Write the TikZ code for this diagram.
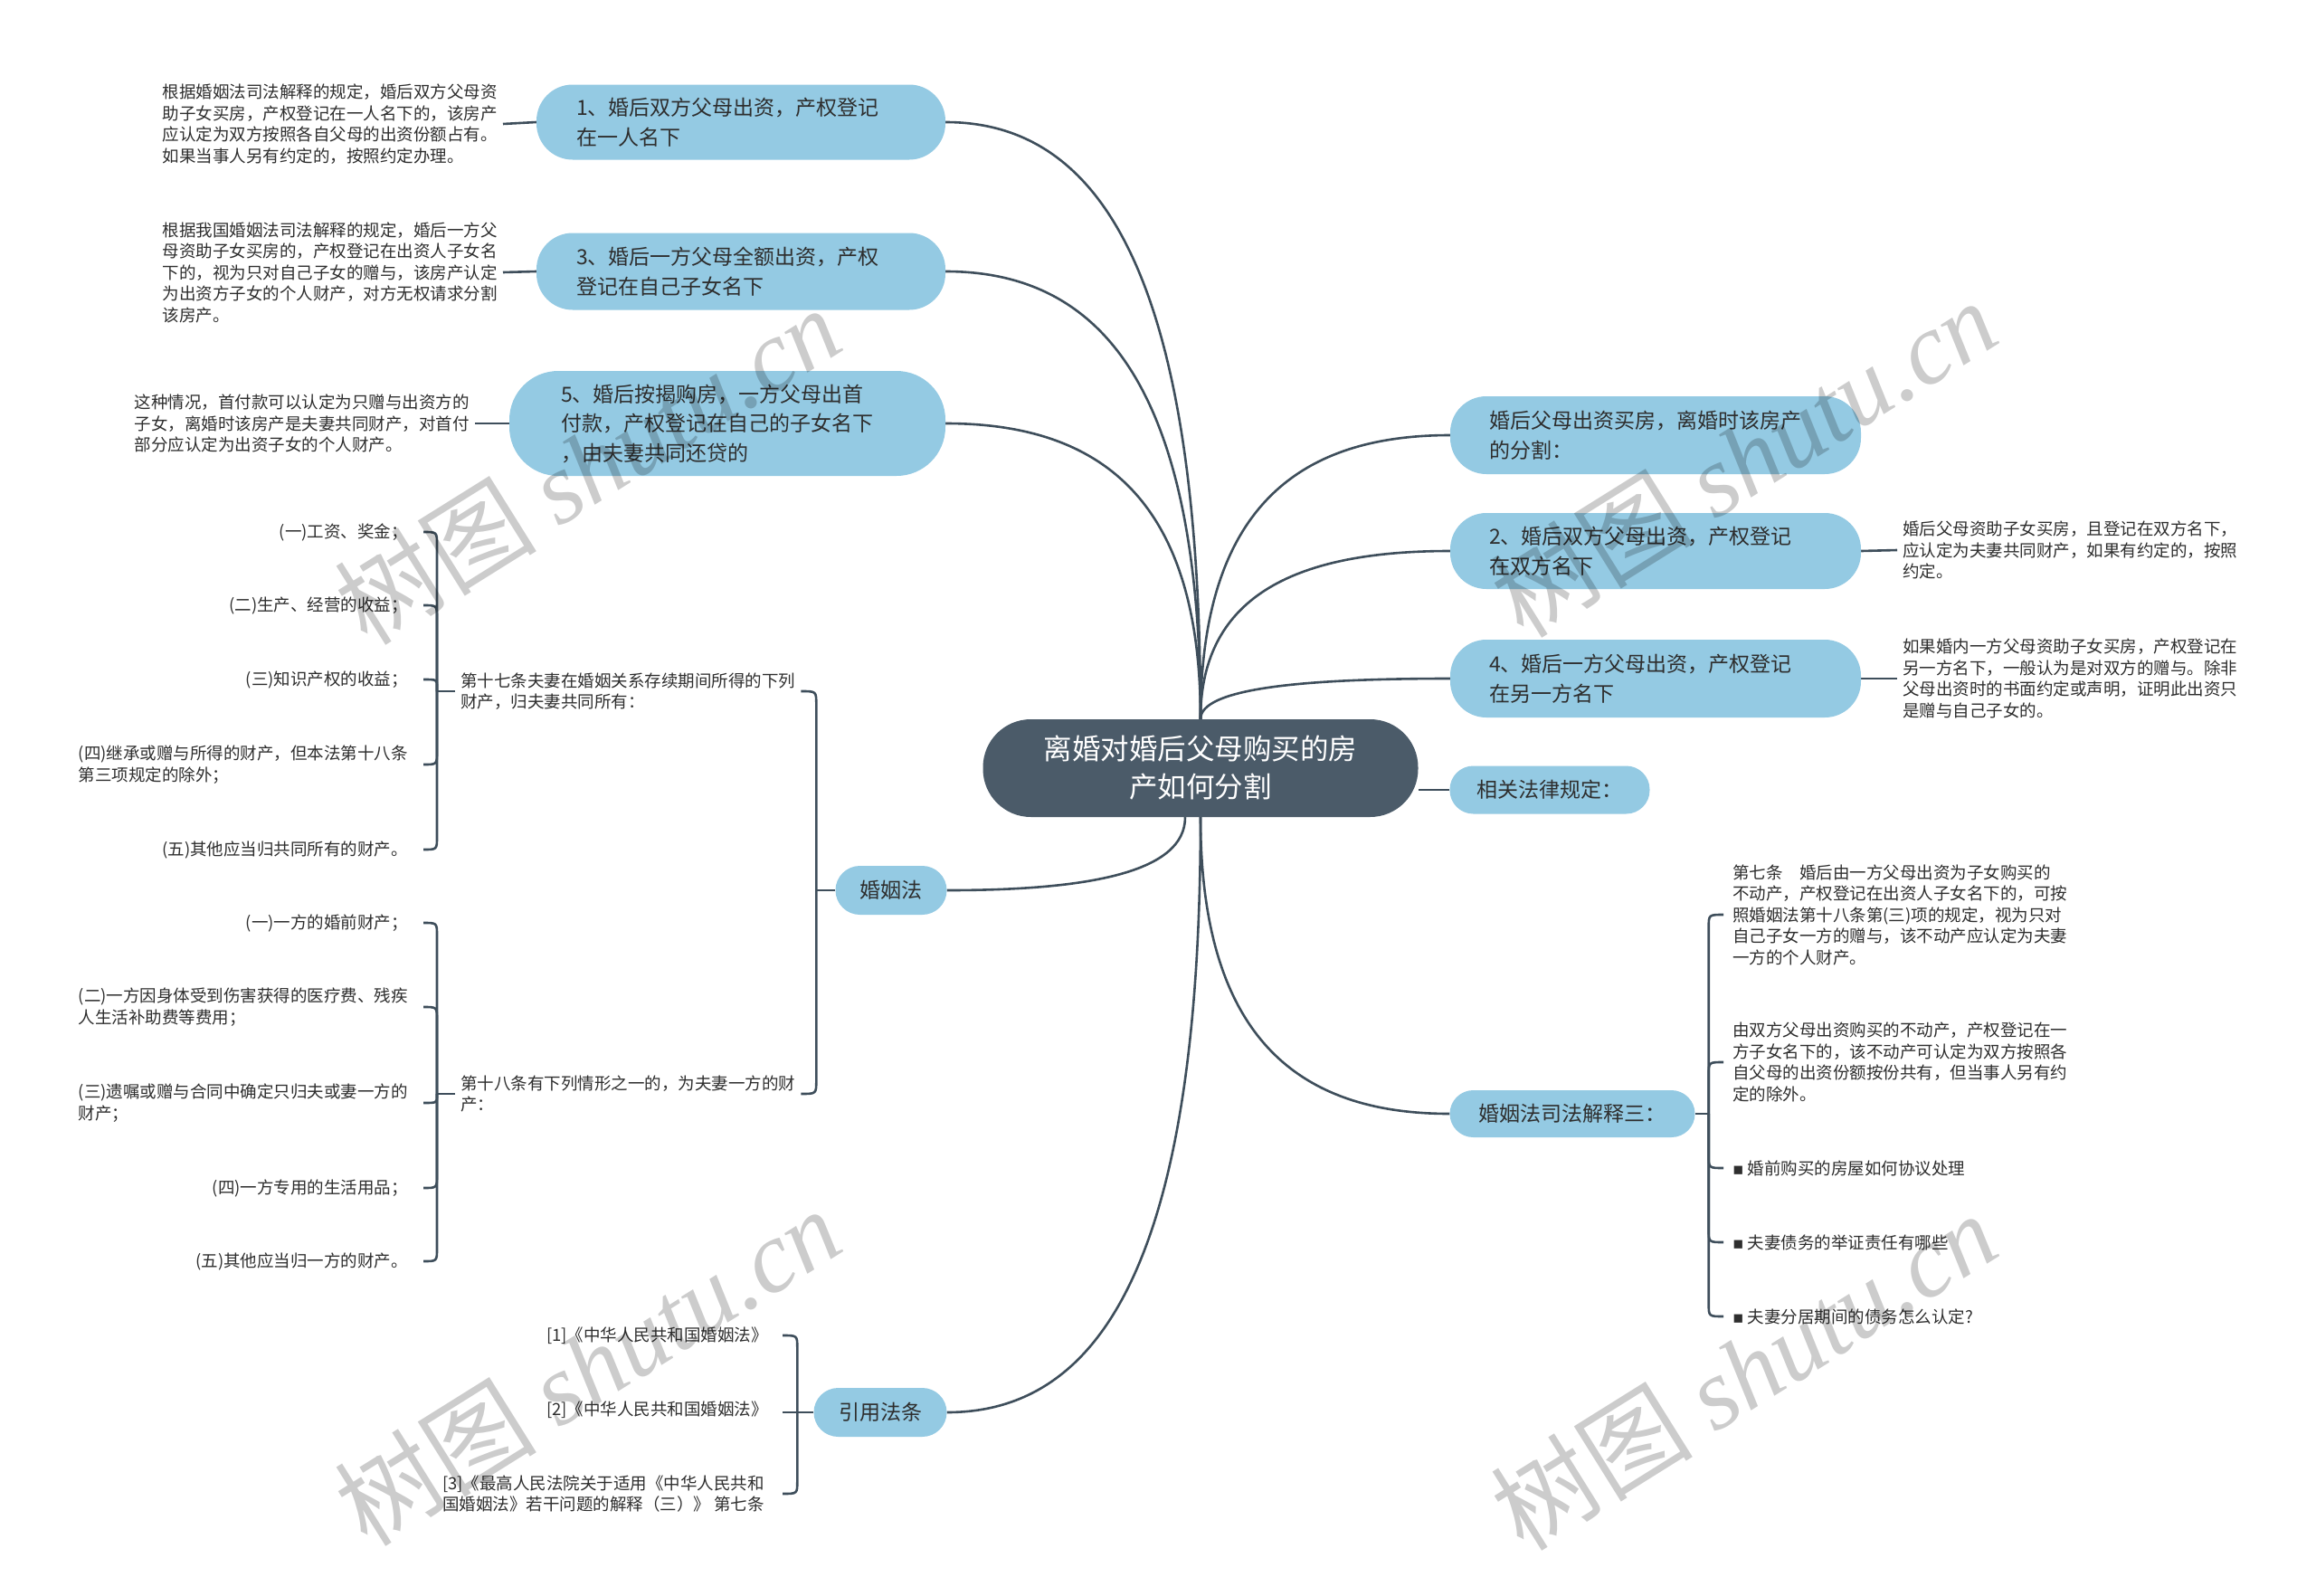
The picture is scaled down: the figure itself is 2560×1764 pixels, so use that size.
\documentclass[tikz,border=0pt]{standalone}
\usepackage{fontspec}
\setmainfont{Noto Sans CJK SC}
\newfontfamily\wmlatin{Liberation Serif}
\newfontfamily\symfnt{DejaVu Sans}
\usetikzlibrary{calc,backgrounds}
\definecolor{centralc}{HTML}{4B5B69}
\definecolor{bluec}{HTML}{94CAE3}
\definecolor{linec}{HTML}{3E4E5B}
\definecolor{txtc}{HTML}{2E2E2E}
\tikzset{
  conn/.style={draw=linec, line width=2.6pt},
  central/.style={fill=centralc, rounded corners=53pt, minimum width=481pt, minimum height=108pt,
    text=white, align=center, inner sep=0pt, font=\fontsize{31.5}{42}\selectfont},
  topic/.style={fill=bluec, rounded corners=40pt, text=txtc, inner sep=0pt,
    font=\fontsize{23}{32.5}\selectfont},
  note/.style={text=txtc, inner xsep=6pt, inner ysep=2pt, align=left,
    font=\fontsize{18.5}{23.5}\selectfont},
  wm/.style={text=black, text opacity=0.2, rotate=32, inner sep=0pt,
    font=\fontsize{112}{120}\selectfont}
}
\newcommand\mmcurve[2]{\draw[conn] (#1) .. controls ($(#1 |- #2)!0.25!(#1)$) and ($(#2)!0.6!(#2 -| #1)$) .. (#2);}
\newcommand\brhook[4]{\draw[conn] (#1) -- ($(#1 |- #2)+(0,#4)$) .. controls (#1 |- #2) .. (#3);}
\begin{document}
\begin{tikzpicture}[x=1pt,y=-1pt]
\begin{pgfonlayer}{background}
\fill[white] (0,0) rectangle (2560,1764);
\end{pgfonlayer}
\useasboundingbox (0,0) rectangle (2560,1764);

% central
\node[central] (c) at (1327,849) {离婚对婚后父母购买的房\\产如何分割};

% left topics
\node[topic, minimum width=452pt, minimum height=83pt, text width=364pt, align=left] (n1) at (819,135) {1、婚后双方父母出资，产权登记\\在一人名下};
\node[topic, minimum width=452pt, minimum height=85pt, text width=364pt, align=left] (n3) at (819,300) {3、婚后一方父母全额出资，产权\\登记在自己子女名下};
\node[topic, minimum width=482pt, minimum height=116pt, text width=368pt, align=left, rounded corners=54pt] (n5) at (804,468) {5、婚后按揭购房，一方父母出首\\付款，产权登记在自己的子女名下\\，由夫妻共同还贷的};

\node[note, anchor=east] (t1) at (556,137) {根据婚姻法司法解释的规定，婚后双方父母资\\助子女买房，产权登记在一人名下的，该房产\\应认定为双方按照各自父母的出资份额占有。\\如果当事人另有约定的，按照约定办理。};
\node[note, anchor=east] (t3) at (556,301) {根据我国婚姻法司法解释的规定，婚后一方父\\母资助子女买房的，产权登记在出资人子女名\\下的，视为只对自己子女的赠与，该房产认定\\为出资方子女的个人财产，对方无权请求分割\\该房产。};
\node[note, anchor=east] (t5) at (525,468) {这种情况，首付款可以认定为只赠与出资方的\\子女，离婚时该房产是夫妻共同财产，对首付\\部分应认定为出资子女的个人财产。};

% 婚姻法
\node[topic, minimum width=123pt, minimum height=54pt, rounded corners=27pt] (hy) at (985,984) {婚姻法};
\node[note, anchor=west] (a17) at (503,764) {第十七条夫妻在婚姻关系存续期间所得的下列\\财产，归夫妻共同所有：};
\node[note, anchor=west] (a18) at (503,1209) {第十八条有下列情形之一的，为夫妻一方的财\\产：};

\node[note, anchor=east] (b1) at (457,588) {(一)工资、奖金；};
\node[note, anchor=east] (b2) at (457,669) {(二)生产、经营的收益；};
\node[note, anchor=east] (b3) at (457,751) {(三)知识产权的收益；};
\node[note, anchor=east] (b4) at (457,845) {(四)继承或赠与所得的财产，但本法第十八条\\第三项规定的除外；};
\node[note, anchor=east] (b5) at (457,939) {(五)其他应当归共同所有的财产。};

\node[note, anchor=east] (d1) at (457,1020) {(一)一方的婚前财产；};
\node[note, anchor=east] (d2) at (457,1113) {(二)一方因身体受到伤害获得的医疗费、残疾\\人生活补助费等费用；};
\node[note, anchor=east] (d3) at (457,1219) {(三)遗嘱或赠与合同中确定只归夫或妻一方的\\财产；};
\node[note, anchor=east] (d4) at (457,1313) {(四)一方专用的生活用品；};
\node[note, anchor=east] (d5) at (457,1394) {(五)其他应当归一方的财产。};

% 引用法条
\node[topic, minimum width=147pt, minimum height=54pt, rounded corners=27pt] (yy) at (973,1561) {引用法条};
\node[note, anchor=east] (e1) at (855,1476) {[1]《中华人民共和国婚姻法》};
\node[note, anchor=east] (e2) at (855,1558) {[2]《中华人民共和国婚姻法》};
\node[note, anchor=east] (e3) at (851,1651) {[3]《最高人民法院关于适用《中华人民共和\\国婚姻法》若干问题的解释（三）》 第七条};

% right topics
\node[topic, minimum width=454pt, minimum height=86pt, text width=368pt, align=left] (r0) at (1830,481) {婚后父母出资买房，离婚时该房产\\的分割：};
\node[topic, minimum width=454pt, minimum height=84pt, text width=368pt, align=left] (n2) at (1830,609) {2、婚后双方父母出资，产权登记\\在双方名下};
\node[topic, minimum width=454pt, minimum height=86pt, text width=368pt, align=left] (n4) at (1830,750) {4、婚后一方父母出资，产权登记\\在另一方名下};
\node[topic, minimum width=221pt, minimum height=53pt, rounded corners=26pt] (rel) at (1713,873) {相关法律规定：};
\node[topic, minimum width=271pt, minimum height=52pt, rounded corners=26pt] (sf) at (1738,1231) {婚姻法司法解释三：};

\node[note, anchor=west] (s2) at (2097,608) {婚后父母资助子女买房，且登记在双方名下，\\应认定为夫妻共同财产，如果有约定的，按照\\约定。};
\node[note, anchor=west] (s4) at (2097,750) {如果婚内一方父母资助子女买房，产权登记在\\另一方名下，一般认为是对双方的赠与。除非\\父母出资时的书面约定或声明，证明此出资只\\是赠与自己子女的。};

\node[note, anchor=west] (f1) at (1909,1011) {第七条　婚后由一方父母出资为子女购买的\\不动产，产权登记在出资人子女名下的，可按\\照婚姻法第十八条第(三)项的规定，视为只对\\自己子女一方的赠与，该不动产应认定为夫妻\\一方的个人财产。};
\node[note, anchor=west] (f2) at (1909,1174) {由双方父母出资购买的不动产，产权登记在一\\方子女名下的，该不动产可认定为双方按照各\\自父母的出资份额按份共有，但当事人另有约\\定的除外。};
\node[note, anchor=west] (f3) at (1909,1291) {{\symfnt ▪}\ 婚前购买的房屋如何协议处理};
\node[note, anchor=west] (f4) at (1909,1373) {{\symfnt ▪}\ 夫妻债务的举证责任有哪些};
\node[note, anchor=west] (f5) at (1909,1455) {{\symfnt ▪}\ 夫妻分居期间的债务怎么认定?};

% join points
\coordinate (cs2) at ([xshift=-17pt]c.south);
\coordinate (j17) at ($(a17.west)+(-20,0)$);
\coordinate (j18) at ($(a18.west)+(-20,0)$);
\coordinate (jhy) at ($(hy.west)+(-21,0)$);
\coordinate (jyy) at ($(yy.west)+(-18,0)$);
\coordinate (jsf) at ($(sf.east)+(15,0)$);

\begin{pgfonlayer}{background}
% central branches
\mmcurve{c.north}{n1.east}
\mmcurve{c.north}{n3.east}
\mmcurve{c.north}{n5.east}
\mmcurve{c.north}{r0.west}
\mmcurve{c.north}{n2.west}
\mmcurve{c.north}{n4.west}
\mmcurve{cs2}{hy.east}
\mmcurve{c.south}{yy.east}
\mmcurve{c.south}{sf.west}
\draw[conn] (rel.west) -- (rel.west -| c.east);
% leaf links
\draw[conn] (t1.east) -- (n1.west);
\draw[conn] (t3.east) -- (n3.west);
\draw[conn] (t5.east) -- (n5.west);
\draw[conn] (n2.east) -- (s2.west);
\draw[conn] (n4.east) -- (s4.west);
% 婚姻法 brackets
\draw[conn] (hy.west) -- (jhy);
\brhook{jhy}{a17.east}{a17.east}{15}
\brhook{jhy}{a18.east}{a18.east}{-15}
\draw[conn] (a17.west) -- (j17);
\draw[conn] (a18.west) -- (j18);
\brhook{j17}{b1.east}{[xshift=11pt]b1.east}{14}
\brhook{j17}{b2.east}{[xshift=11pt]b2.east}{14}
\brhook{j17}{b3.east}{[xshift=11pt]b3.east}{8}
\brhook{j17}{b4.east}{[xshift=11pt]b4.east}{-14}
\brhook{j17}{b5.east}{[xshift=11pt]b5.east}{-14}
\brhook{j18}{d1.east}{[xshift=11pt]d1.east}{14}
\brhook{j18}{d2.east}{[xshift=11pt]d2.east}{14}
\brhook{j18}{d3.east}{[xshift=11pt]d3.east}{-8}
\brhook{j18}{d4.east}{[xshift=11pt]d4.east}{-14}
\brhook{j18}{d5.east}{[xshift=11pt]d5.east}{-14}
% 引用法条 bracket
\draw[conn] (yy.west) -- (jyy);
\brhook{jyy}{e1.east}{[xshift=10pt]e1.east}{14}
\draw[conn] (jyy) -- ($(jyy -| e2.east)+(10,0)$);
\brhook{jyy}{e3.east}{[xshift=14pt]e3.east}{-14}
% 司法解释三 bracket
\draw[conn] (sf.east) -- (jsf);
\brhook{jsf}{f1.west}{[xshift=-4pt]f1.west}{14}
\brhook{jsf}{f2.west}{[xshift=-4pt]f2.west}{14}
\brhook{jsf}{f3.west}{[xshift=-4pt]f3.west}{-14}
\brhook{jsf}{f4.west}{[xshift=-4pt]f4.west}{-14}
\brhook{jsf}{f5.west}{[xshift=-4pt]f5.west}{-14}
\end{pgfonlayer}

% watermarks
\node[wm] (w1) at (649,514) {树图 {\wmlatin\itshape shutu.cn}};
\node[wm] (w2) at (1927,506) {树图 {\wmlatin\itshape shutu.cn}};
\node[wm] (w3) at (649,1510) {树图 {\wmlatin\itshape shutu.cn}};
\node[wm] (w4) at (1927,1515) {树图 {\wmlatin\itshape shutu.cn}};
\end{tikzpicture}
\end{document}
